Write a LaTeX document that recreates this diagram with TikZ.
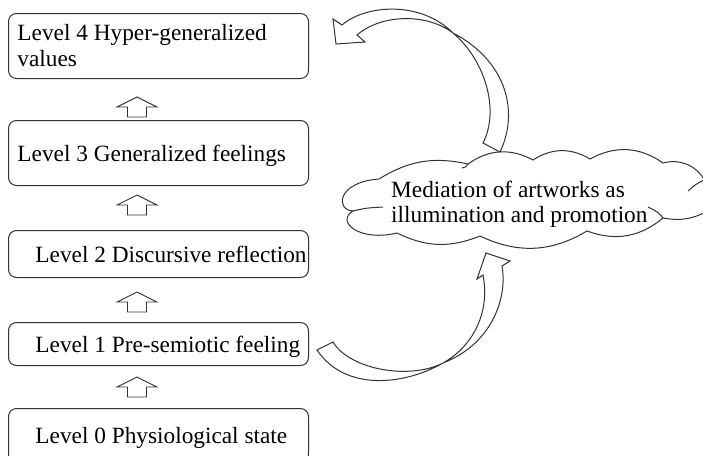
\documentclass[tikz,border=0pt]{standalone}
\usepackage{fontspec}
\setmainfont{Liberation Serif}
\usetikzlibrary{calc}
\begin{document}
\begin{tikzpicture}[x=1pt,y=-1pt,
  font=\fontsize{23.3}{26}\selectfont,
  ink/.style={draw=black!80, line width=1pt},
  levelbox/.style={ink, rounded corners=8pt, minimum width=300pt,
    inner xsep=0pt, inner ysep=0pt, anchor=north west, text=black},
  oneline/.style={text height=16pt, text depth=0pt},
  uparrow/.pic={\draw[ink, line width=0.9pt] (-9.5,0) -- (-9.5,-10) -- (-20,-10)
    -- (0,-20) -- (20,-10) -- (9.5,-10) -- (9.5,0) -- cycle;}
]
\useasboundingbox (0,0) rectangle (703,455);
\clip (0,0) rectangle (703,455);

% the five levels
\node[levelbox, minimum height=65pt, align=left] (l4) at (8,13)
  {\makebox[300pt][l]{\hspace{9pt}Level 4 Hyper-generalized}\\
   \makebox[300pt][l]{\hspace{9pt}values}};
\node[levelbox, oneline, minimum height=65pt] (l3) at (8,120)
  {\makebox[300pt][l]{\hspace{9pt}Level 3 Generalized feelings}};
\node[levelbox, oneline, minimum height=47pt] (l2) at (8,230)
  {\makebox[300pt][l]{\hspace{27pt}Level 2 Discursive reflection}};
\node[levelbox, oneline, minimum height=43pt] (l1) at (8,322)
  {\makebox[300pt][l]{\hspace{27pt}Level 1 Pre-semiotic feeling}};
\node[levelbox, oneline, minimum height=54pt] (l0) at (8,408)
  {\makebox[300pt][l]{\hspace{27pt}Level 0 Physiological state}};

% block arrows between the levels
\pic at ($(l3.north west)+(129,-3)$) {uparrow};
\pic at ($(l2.north west)+(129,-15)$) {uparrow};
\pic at ($(l1.north west)+(129,-10)$) {uparrow};
\pic at ($(l0.north west)+(129,-11)$) {uparrow};

% cloud
\draw[ink, fill=white]
  (379,179) to[bend left=22] (468,164) to[bend left=32] (533,160)
  to[bend left=32] (590,159) to[bend left=32] (663,163)
  to[bend left=40] (706,183) to[bend left=60] (706,212)
  to[bend left=18] (663,218) to[bend left=30] (587,231)
  to[bend left=28] (480,236) to[bend left=24] (397,233)
  .. controls (360,242) and (335,222) .. (353,211)
  .. controls (335,210) and (337,182) .. (379,179) -- cycle;
\draw[ink] (353,211) .. controls (366,208) .. (383,207);
\draw[ink] (663,218) .. controls (658,212) .. (648,207);
\draw[ink] (704,180) .. controls (696,184) .. (688,191);
\draw[ink] (468,164) .. controls (466,167) .. (462,168);

\node[anchor=north west, inner sep=0pt, align=left, text=black,
  font=\fontsize{23.3}{25}\selectfont] (cloudtext) at (391,181)
  {Mediation of artworks as\\illumination and promotion};

% curved arrow from the cloud up to level 4
\draw[ink]
  (342,25) .. controls (365,5) and (420,0) .. (453,33)
  .. controls (485,60) and (500,110) .. (483,143)
  -- (500,152)
  .. controls (520,110) and (505,60) .. (453,33)
  .. controls (425,12) and (380,15) .. (357,35)
  -- (365,42) -- (336,44) -- (333,19) -- cycle;

% curved arrow from level 1 up to the cloud
\draw[ink]
  (333,342) .. controls (350,370) and (410,380) .. (443,363)
  .. controls (490,345) and (508,300) .. (502,266)
  -- (510,261) -- (486,253) -- (477,279) -- (483,275)
  .. controls (490,310) and (475,345) .. (443,363)
  .. controls (405,385) and (345,392) .. (317,350) -- cycle;
\end{tikzpicture}
\end{document}
